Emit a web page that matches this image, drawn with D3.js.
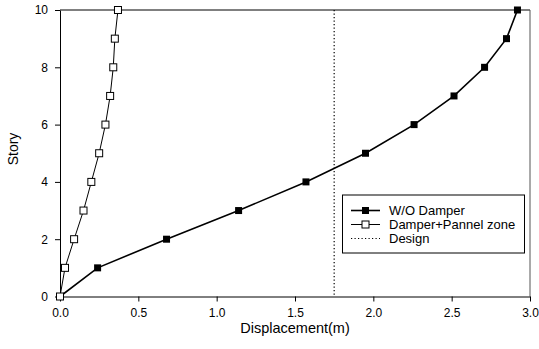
<!DOCTYPE html>
<html><head><meta charset="utf-8">
<script src="https://cdn.jsdelivr.net/npm/d3@7"></script>
<style>body{margin:0;background:#fff}svg{display:block}</style>
</head><body>
<svg id="c" width="539" height="349"></svg>
<script>
const stories = [0,1,2,3,4,5,6,7,8,9,10];
const woDamper = [0,0.24,0.68,1.14,1.57,1.95,2.26,2.515,2.71,2.85,2.92];
const damperPannel = [0,0.032,0.09,0.15,0.20,0.25,0.29,0.32,0.34,0.35,0.37];
const designValue = 1.75;
const xTicks = [0,0.5,1.0,1.5,2.0,2.5,3.0];
const yTicks = [0,2,4,6,8,10];
const legendLabels = ["W/O Damper","Damper+Pannel zone","Design"];

const svg = d3.select("#c");
const L=60,R=530,T=10,B=296.5;
const x = d3.scaleLinear().domain([0,3]).range([L,R]);
const y = d3.scaleLinear().domain([0,10]).range([B,T]);
const font = "Arial, 'Liberation Sans', sans-serif";

// frame top/right
svg.append("line").attr("x1",L).attr("x2",R).attr("y1",T).attr("y2",T).attr("stroke","#000");
svg.append("line").attr("x1",R).attr("x2",R).attr("y1",T).attr("y2",B).attr("stroke","#555");

const xa = svg.append("g").attr("transform",`translate(0,${B})`)
  .call(d3.axisBottom(x).tickValues(xTicks).tickFormat(d3.format(".1f")).tickSize(5).tickPadding(7).tickSizeOuter(0));
const ya = svg.append("g").attr("transform",`translate(${L},0)`)
  .call(d3.axisLeft(y).tickValues(yTicks).tickFormat(d3.format("d")).tickSize(5).tickPadding(7).tickSizeOuter(0));
[xa,ya].forEach(a=>{a.selectAll("text").attr("font-family",font).attr("font-size",12).attr("fill","#000");
  a.select(".domain").attr("stroke","#000"); a.selectAll(".tick line").attr("stroke","#000");});

// design line
svg.append("line").attr("x1",x(designValue)).attr("x2",x(designValue)).attr("y1",T).attr("y2",B)
  .attr("stroke","#000").attr("stroke-width",1.2).attr("stroke-dasharray","1.2,2.3");

const line = d3.line().x(d=>x(d[0])).y(d=>y(d[1]));
const s1 = woDamper.map((v,i)=>[v,stories[i]]);
const s2 = damperPannel.map((v,i)=>[v,stories[i]]);
svg.append("path").attr("d",line(s1)).attr("fill","none").attr("stroke","#000").attr("stroke-width",1.6);
svg.append("path").attr("d",line(s2)).attr("fill","none").attr("stroke","#000").attr("stroke-width",1);
svg.selectAll(".m1").data(s1).enter().append("rect")
  .attr("x",d=>x(d[0])-3.5).attr("y",d=>y(d[1])-3.5).attr("width",7).attr("height",7).attr("fill","#000");
svg.selectAll(".m2").data(s2).enter().append("rect")
  .attr("x",d=>x(d[0])-3.5).attr("y",d=>y(d[1])-3.5).attr("width",7).attr("height",7)
  .attr("fill","#fff").attr("stroke","#000").attr("stroke-width",1);

// axis titles
svg.append("text").attr("x",(L+R)/2).attr("y",333).attr("text-anchor","middle")
  .attr("font-family",font).attr("font-size",14.5).text("Displacement(m)");
svg.append("text").attr("transform","translate(18,149) rotate(-90)").attr("text-anchor","middle")
  .attr("font-family",font).attr("font-size",14).text("Story");

// legend
const lg = svg.append("g");
lg.append("rect").attr("x",342.5).attr("y",195).attr("width",182).attr("height",58)
  .attr("fill","#fff").attr("stroke","#000").attr("stroke-width",1);
const rows=[210.5,224.5,238.5];
legendLabels.forEach((t,i)=>{
  const yy=rows[i];
  const ln=lg.append("line").attr("x1",351).attr("x2",380).attr("y1",yy).attr("y2",yy).attr("stroke","#000");
  if(i===0){ln.attr("stroke-width",1.6);lg.append("rect").attr("x",362).attr("y",yy-3.5).attr("width",7).attr("height",7).attr("fill","#000");}
  if(i===1){lg.append("rect").attr("x",362).attr("y",yy-3.5).attr("width",7).attr("height",7).attr("fill","#fff").attr("stroke","#000");}
  if(i===2){ln.attr("stroke-dasharray","1.2,2.3").attr("stroke-width",1.2);}
  lg.append("text").attr("x",389).attr("y",yy).attr("dy","0.35em").attr("font-family",font).attr("font-size",13).text(t);
});
</script>
</body></html>
